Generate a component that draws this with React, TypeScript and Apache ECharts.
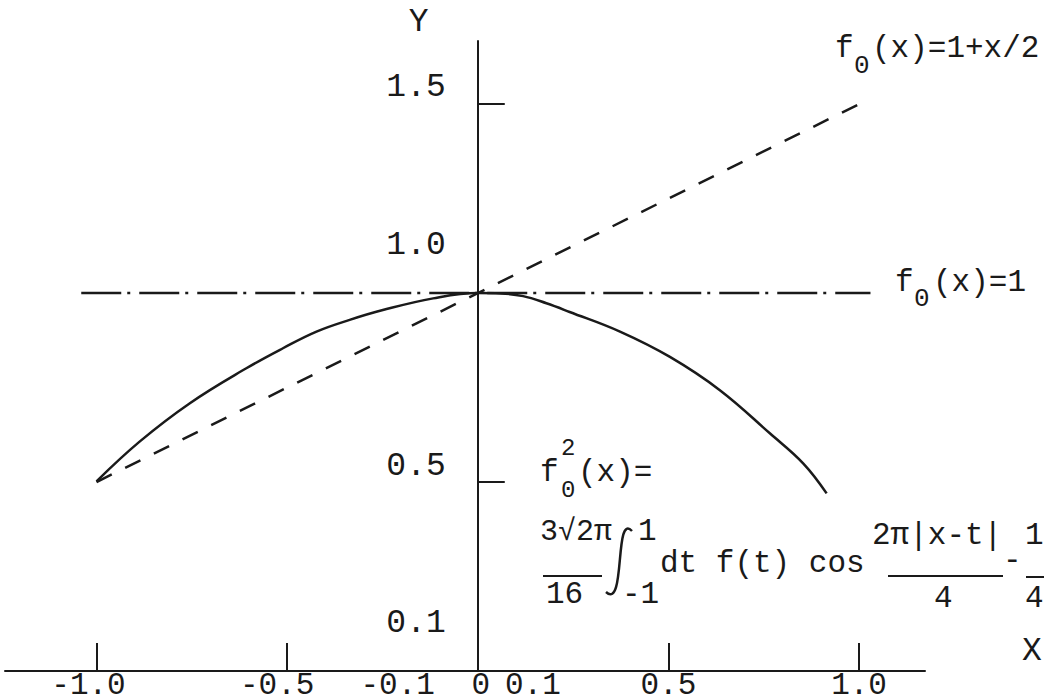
import React, { useEffect, useRef } from "react";
import * as echarts from "echarts";

// f0^2(x): solid curve, sampled along x
const curveX = [-1.0, -0.887, -0.756, -0.607, -0.511, -0.423, -0.336, -0.249, -0.117, 0, 0.06, 0.119, 0.18, 0.241, 0.373, 0.504, 0.635, 0.766, 0.854, 0.915];
const curveY = [0.502, 0.607, 0.708, 0.801, 0.854, 0.898, 0.929, 0.955, 0.986, 1.0, 0.999, 0.992, 0.973, 0.95, 0.898, 0.831, 0.743, 0.629, 0.549, 0.47];

// f0(x) = 1 + x/2 (dashed)
const linearX = [-1, 1];
const linearY = [0.5, 1.5];

// f0(x) = 1 (dash-dot)
const constX = [-1.04, 1.03];
const constY = [1, 1];

// axis ticks and labels
const xTickValues = [-1, -0.5, 0.5, 1];
const xLabelValues = [-1, -0.5, -0.1, 0, 0.1, 0.5, 1];
const xLabelTexts = ["-1.0", "-0.5", "-0.1", "0", "0.1", "0.5", "1.0"];
const yTickValues = [0.5, 1.5];
const yLabelValues = [0.1, 0.5, 1.0, 1.5];
const yLabelTexts = ["0.1", "0.5", "1.0", "1.5"];

// typed label offsets (px): horizontal shift for x labels, lift for y labels
const xLabelShift = [-8, -10, -42, 3, 17, 0, 0];
const yLabelLift = [10, 16, 48, 17];

const X_MIN = -1.24;
const X_MAX = 1.173;
const GRID_LEFT = 5;
const GRID_RIGHT = 124;
const WIDTH = 1049;

const INK = "#1a1a1a";
const MONO = '"Liberation Mono", "DejaVu Sans Mono", monospace';
const FS = 33;
const FS_X = 31;

function txt(text: string, x: number, y: number, size = 31) {
  return {
    type: "text",
    x,
    y,
    silent: true,
    style: {
      text,
      fill: INK,
      fontSize: size,
      fontFamily: MONO,
      textAlign: "left",
      align: "left",
      textVerticalAlign: "middle",
      verticalAlign: "middle",
    },
  };
}

function bar(x1: number, x2: number, y: number) {
  return {
    type: "line",
    silent: true,
    shape: { x1, y1: y, x2, y2: y },
    style: { stroke: INK, lineWidth: 2 },
  };
}

function findIndex(values: number[], v: number) {
  return values.findIndex((u) => Math.abs(u - v) < 1e-6);
}

export default function App() {
  const ref = useRef<HTMLDivElement>(null);

  useEffect(() => {
    const chart = echarts.init(ref.current!, null, { renderer: "svg" });

    // the vertical axis sits on x = 0 of the horizontal scale
    const plotWidth = WIDTH - GRID_LEFT - GRID_RIGHT;
    const zeroOffset = ((0 - X_MIN) / (X_MAX - X_MIN)) * plotWidth;

    const xRich: Record<string, any> = {};
    xLabelShift.forEach((s, i) => {
      xRich["x" + i] = {
        fontFamily: MONO,
        fontSize: FS_X,
        lineHeight: 16,
        color: INK,
        padding: s < 0 ? [0, -2 * s, 0, 0] : [0, 0, 0, 2 * s],
      };
    });
    const yRich: Record<string, any> = {};
    yLabelLift.forEach((l, i) => {
      yRich["y" + i] = {
        fontFamily: MONO,
        fontSize: FS,
        color: INK,
        padding: [0, 0, 2 * l, 0],
      };
    });

    const annotations: any[] = [
      // f0(x)=1+x/2
      txt("f", 835, 48),
      txt("0", 854, 66, 26),
      txt("(x)=1+x/2", 872, 48),
      // f0(x)=1
      txt("f", 895, 282),
      txt("0", 914, 299, 26),
      txt("(x)=1", 933, 282),
      // f0^2(x)=
      txt("f", 540, 472),
      txt("2", 561, 448, 24),
      txt("0", 561, 490, 24),
      txt("(x)=", 578, 472),
      // 3√2π / 16
      txt("3√2π", 540, 532, 30),
      bar(543, 602, 576),
      txt("16", 546, 594),
      // integral from -1 to 1
      {
        type: "bezierCurve",
        silent: true,
        shape: { x1: 632, y1: 531, cpx1: 614, cpy1: 512, cpx2: 626, cpy2: 610, x2: 606, y2: 592 },
        style: { stroke: INK, lineWidth: 2.5, fill: "none" },
      },
      txt("1", 638, 531),
      txt("-1", 622, 594),
      txt("dt f(t) cos", 660, 563),
      // 2π|x-t| / 4
      txt("2π|x-t|", 872, 535),
      bar(888, 1003, 576),
      txt("4", 934, 598),
      txt("-", 1003, 560),
      // 1/4
      txt("1", 1025, 535),
      bar(1026, 1044, 577),
      txt("4", 1025, 598),
    ];

    const option: any = {
      animation: false,
      backgroundColor: "#ffffff",
      grid: {
        left: GRID_LEFT,
        right: GRID_RIGHT,
        top: 41,
        bottom: 27,
        containLabel: false,
        outerBoundsMode: "none",
      },
      xAxis: {
        type: "value",
        min: X_MIN,
        max: X_MAX,
        name: "X",
        nameLocation: "end",
        nameGap: 97,
        nameTextStyle: { fontFamily: MONO, fontSize: FS, color: INK, verticalAlign: "bottom", lineHeight: 40 },
        axisLine: { show: true, onZero: false, lineStyle: { color: INK, width: 2 } },
        axisTick: { show: true, inside: true, length: 28, customValues: xTickValues, lineStyle: { color: INK, width: 2 } },
        axisLabel: {
          show: true,
          margin: 6,
          customValues: xLabelValues,
          formatter: (v: number) => {
            const i = findIndex(xLabelValues, v);
            return i < 0 ? "" : `{x${i}|${xLabelTexts[i]}}`;
          },
          rich: xRich,
          fontFamily: MONO,
          fontSize: FS_X,
          lineHeight: 16,
          color: INK,
        },
        splitLine: { show: false },
      },
      yAxis: {
        type: "value",
        min: 0,
        max: 1.667,
        offset: -zeroOffset,
        name: "Y",
        nameLocation: "end",
        nameGap: 2,
        nameTextStyle: { fontFamily: MONO, fontSize: FS, color: INK, padding: [0, 118, 0, 0] },
        axisLine: { show: true, onZero: false, lineStyle: { color: INK, width: 2 } },
        axisTick: { show: true, inside: true, length: 27, customValues: yTickValues, lineStyle: { color: INK, width: 2 } },
        axisLabel: {
          show: true,
          margin: 32,
          customValues: yLabelValues,
          formatter: (v: number) => {
            const i = findIndex(yLabelValues, v);
            return i < 0 ? "" : `{y${i}|${yLabelTexts[i]}}`;
          },
          rich: yRich,
          fontFamily: MONO,
          fontSize: FS,
          color: INK,
        },
        splitLine: { show: false },
      },
      series: [
        {
          name: "f0^2(x)",
          type: "line",
          data: curveX.map((x, i) => [x, curveY[i]]),
          smooth: 0.4,
          showSymbol: false,
          lineStyle: { color: INK, width: 2.5 },
        },
        {
          name: "f0(x)=1+x/2",
          type: "line",
          data: linearX.map((x, i) => [x, linearY[i]]),
          showSymbol: false,
          lineStyle: { color: INK, width: 2.5, type: [17, 15] },
        },
        {
          name: "f0(x)=1",
          type: "line",
          data: constX.map((x, i) => [x, constY[i]]),
          showSymbol: false,
          lineStyle: { color: INK, width: 2.5, type: [40, 6, 3, 9] },
        },
      ],
      graphic: annotations,
    };

    chart.setOption(option);
    return () => chart.dispose();
  }, []);

  return (
    <div
      ref={ref}
      style={{ position: "fixed", left: 0, top: 0, width: 1049, height: 698, background: "#ffffff" }}
    />
  );
}
